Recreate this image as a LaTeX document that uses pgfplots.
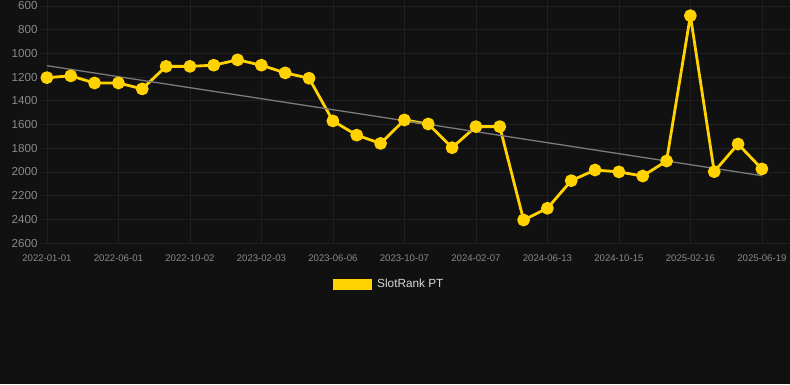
\documentclass[border=0pt]{standalone}
\usepackage{pgfplots}
\pgfplotsset{compat=1.18}
\usepackage{fontspec}
\setmainfont{Liberation Sans}
\definecolor{bg}{HTML}{111111}
\definecolor{gridc}{HTML}{202020}
\definecolor{tickc}{HTML}{8A8A8A}
\definecolor{gold}{HTML}{FFD200}
\definecolor{trend}{HTML}{7A7A7A}
\begin{document}
\begin{tikzpicture}[x=1pt,y=1pt]
\path[use as bounding box, fill=bg] (-40,-141) rectangle (750,243);
\begin{axis}[
  at={(0,0)}, anchor=south west,
  scale only axis, width=750pt, height=243pt,
  xmin=-0.29, xmax=31.18,
  ymin=550, ymax=2600, y dir=reverse,
  axis line style={draw=none},
  tick style={draw=none},
  grid=major, grid style={gridc, line width=0.6pt},
  xtick={0,3,...,30},
  xticklabels={2022-01-01,2022-06-01,2022-10-02,2023-02-03,2023-06-06,2023-10-07,2024-02-07,2024-06-13,2024-10-15,2025-02-16,2025-06-19},
  ytick={600,800,...,2600},
  /pgf/number format/1000 sep={},
  /pgf/number format/assume math mode=true,
  xticklabel style={font=\fontsize{9.6}{11}\selectfont, text=tickc, yshift=-8pt},
  yticklabel style={font=\fontsize{11.6}{13}\selectfont, text=tickc, xshift=1pt},
  clip=false,
  legend style={at={(0.3907,-0.1687)}, anchor=west, draw=none, fill=none,
    text=white!85!black, font=\fontsize{11.8}{13}\selectfont, inner sep=0pt},
  legend cell align=left,
]
\addplot[gold, line width=2.8pt, line join=round, mark=*, mark size=5pt, mark options={solid, fill=gold, draw=none},
  legend image code/.code={\path[fill=gold, draw=none] (0pt,-5.5pt) rectangle (39pt,5.5pt); \path[draw=none, fill=none] (39pt,0pt) -- (42pt,0pt);}]
coordinates {
(0,1205)(1,1190)(2,1250)(3,1250)(4,1300)(5,1110)(6,1110)(7,1100)(8,1055)(9,1100)
(10,1165)(11,1210)(12,1570)(13,1690)(14,1760)(15,1562)(16,1596)(17,1796)(18,1618)(19,1618)
(20,2406)(21,2307)(22,2074)(23,1984)(24,2000)(25,2035)(26,1908)(27,682)(28,1998)(29,1765)(30,1975)
};
\addlegendentry{SlotRank PT}
\addplot[trend, line width=1.3pt, forget plot] coordinates {(0,1104)(30,2032)};
\end{axis}
\end{tikzpicture}
\end{document}
